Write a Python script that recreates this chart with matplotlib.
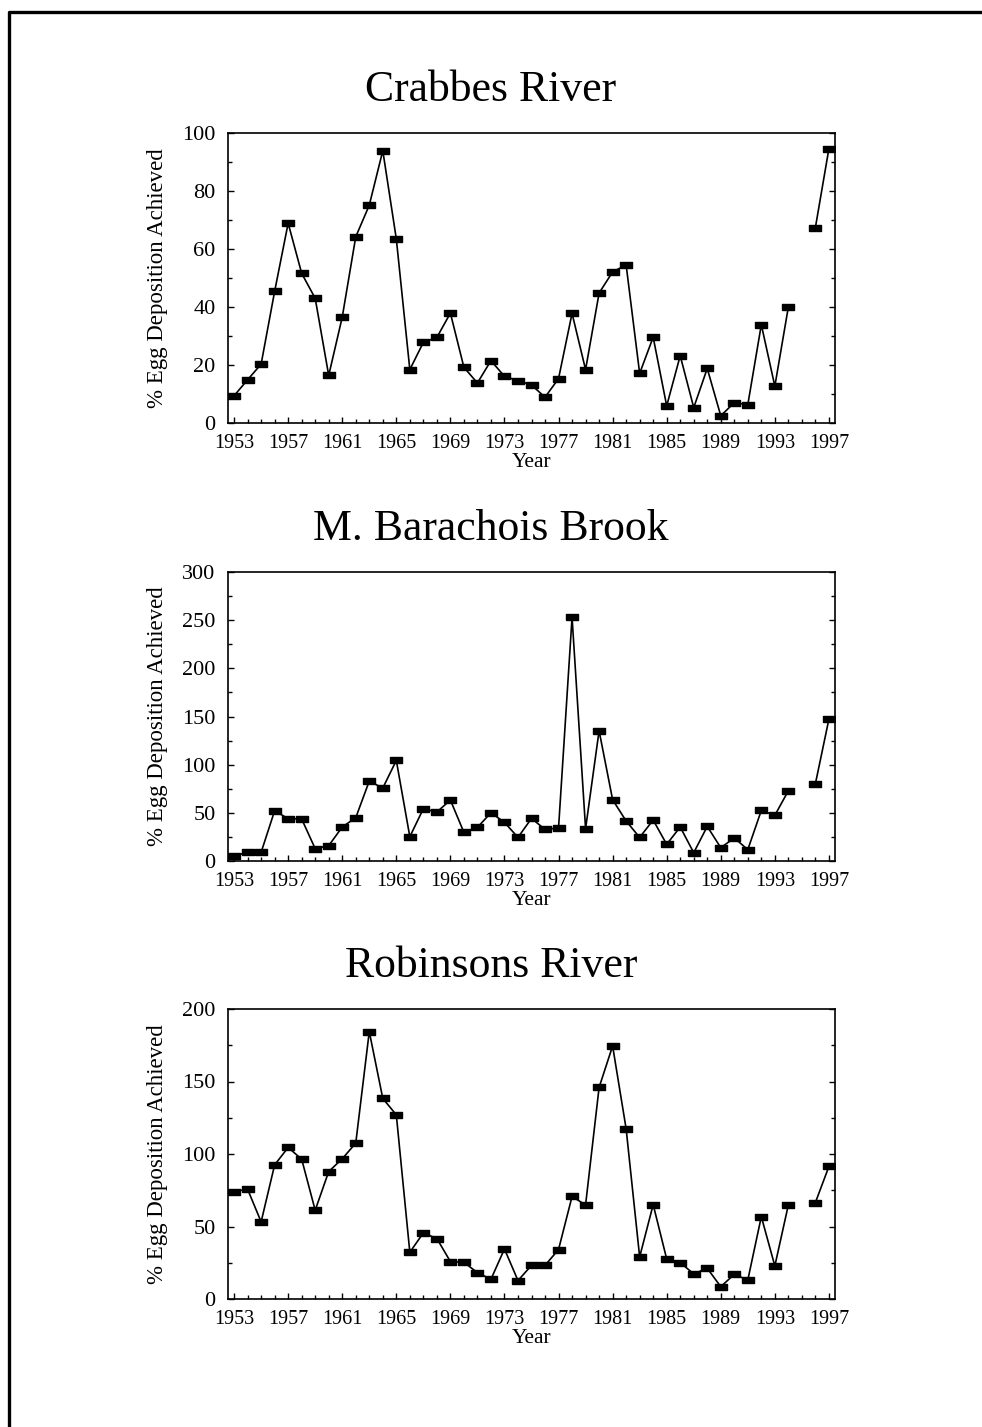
import numpy as np
import matplotlib
matplotlib.use("Agg")
import matplotlib.pyplot as plt
from matplotlib.lines import Line2D
from matplotlib.ticker import MultipleLocator

plt.rcParams['font.family'] = ['Liberation Serif', 'DejaVu Serif']

# Data (1995 missing in all series)
years = list(range(1953, 1998))

crabbes = [9.4, 14.9, 20.3, 45.4, 68.9, 51.6, 43.0, 16.4, 36.5, 64.2,
           75.1, 93.9, 63.5, 18.4, 27.8, 29.5, 37.9, 19.2, 13.8, 21.5,
           16.1, 14.6, 13.1, 8.9, 15.3, 37.8, 18.4, 44.8, 52.1, 54.5,
           17.1, 29.6, 5.9, 23.2, 5.3, 18.8, 2.5, 7.0, 6.3, 33.9,
           12.7, 40.0, np.nan, 67.4, 94.6]

barachois = [5.2, 9.0, 9.0, 52.2, 43.9, 43.6, 12.8, 15.9, 35.3, 44.9,
             83.0, 75.7, 104.4, 25.2, 54.3, 50.8, 63.3, 29.7, 34.9, 50.1,
             40.1, 24.5, 44.2, 32.8, 34.2, 253.0, 33.5, 135.2, 63.6, 41.5,
             24.5, 42.5, 17.3, 35.3, 8.6, 35.9, 13.8, 23.9, 11.8, 52.5,
             47.4, 72.9, np.nan, 80.2, 147.3]

robinsons = [74.1, 75.7, 53.2, 92.5, 104.5, 96.4, 61.2, 87.9, 96.7, 107.5,
             184.4, 138.3, 127.0, 32.2, 45.6, 41.7, 25.8, 25.3, 18.2, 13.6,
             34.5, 12.7, 23.2, 23.2, 34.1, 70.7, 64.9, 145.9, 174.5, 117.4,
             29.0, 65.1, 27.6, 25.1, 17.3, 21.2, 8.5, 17.0, 13.1, 56.8,
             22.8, 64.9, np.nan, 66.5, 91.4]

titles = ["Crabbes River", "M. Barachois Brook", "Robinsons River"]
series = [crabbes, barachois, robinsons]
ymax = [100, 300, 200]
ystep = [20, 50, 50]

W, H = 982, 1427
fig = plt.figure(figsize=(W / 100, H / 100), dpi=100)

# flat rectangle marker
rect = [(-1, -0.48), (1, -0.48), (1, 0.48), (-1, 0.48), (-1, -0.48)]

# axes pixel boxes: (left, top, right, bottom)
boxes = [(228, 133, 835, 423), (228, 572, 835, 861), (228, 1009, 835, 1299)]

for box, title, vals, ym, st in zip(boxes, titles, series, ymax, ystep):
    l, t, r, b = box
    ax = fig.add_axes([l / W, 1 - b / H, (r - l) / W, (b - t) / H])
    ax.plot(years, vals, color='black', lw=1.2, marker=rect,
            markersize=9, markerfacecolor='black', markeredgecolor='black')
    ax.set_xlim(1952.55, 1997.45)
    ax.set_ylim(0, ym)
    ax.set_xticks(range(1953, 1998, 4))
    ax.xaxis.set_minor_locator(MultipleLocator(1))
    ax.yaxis.set_major_locator(MultipleLocator(st))
    ax.yaxis.set_minor_locator(MultipleLocator(st / 2))
    ax.tick_params(axis='both', which='both', direction='in', right=True)
    ax.tick_params(axis='both', which='major', length=4, width=1)
    ax.tick_params(axis='both', which='minor', length=3, width=1)
    ax.tick_params(axis='x', labelsize=14.5, pad=8)
    ax.tick_params(axis='y', labelsize=16, pad=9)
    for sp in ax.spines.values():
        sp.set_linewidth(1.2)
    ax.set_xlabel("Year", fontsize=15.5, labelpad=0)
    ax.set_ylabel("% Egg Deposition Achieved", fontsize=16.5, labelpad=10)
    fig.text(0.5, 1 - (t - 32) / H, title, ha='center', va='baseline',
             fontsize=31.5)

# page border (left and top edges)
fig.add_artist(Line2D([9 / W, 9 / W, 1.0], [0.0, 1 - 12 / H, 1 - 12 / H],
                      transform=fig.transFigure, color='black', lw=2.4))

fig.savefig("out.png", dpi=100)
